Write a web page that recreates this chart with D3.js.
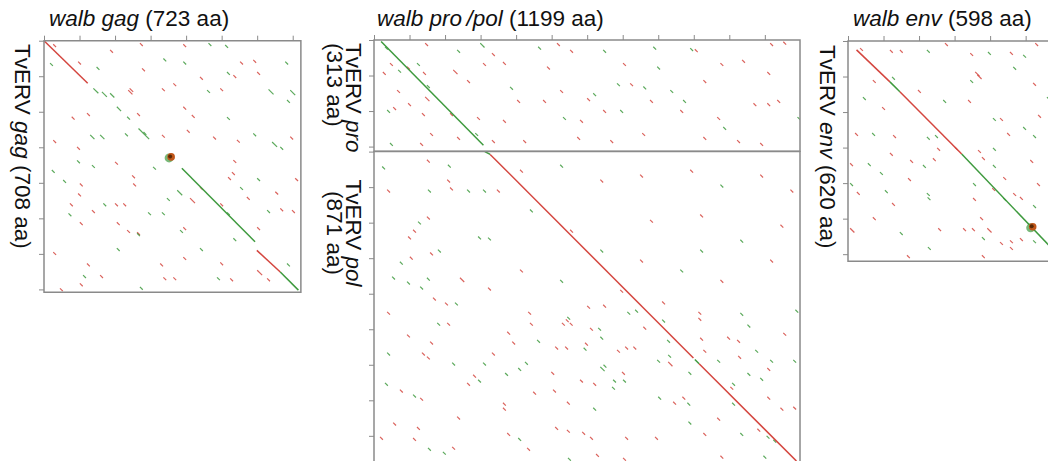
<!DOCTYPE html>
<html>
<head>
<meta charset="utf-8">
<script src="https://cdn.jsdelivr.net/npm/d3@7"></script>
<style>
    body { margin: 0; background: #fff; }
    svg { display: block; }
    text { font-family: "Liberation Sans", Arial, sans-serif; font-size: 22.5px; fill: #111; }
</style>
</head>
<body>
<div class="dotplot-container"></div>
<script>
// Sequence lengths (aa): [walb, TvERV]
const gagLen = [723, 708];
const proLen = [1199, 313];
const polLen = [1199, 871];
const envLen = [598, 620];

// Main diagonal runs: [walbStart, tvervStart, walbEnd, tvervEnd, colour]
const gagDiag = [[0, 0, 123, 120, "r"], [388, 359, 594, 566, "g"], [599, 590, 665, 651, "r"], [665, 651, 716, 702, "g"]];
const proDiag = [[20, 4, 308, 296, "g"]];
const polDiag = [[312, 0, 327, 8, "g"], [327, 8, 899, 581, "r"], [903, 585, 915, 597, "g"], [915, 597, 1189, 871, "r"]];
const envDiag = [[24, 25, 118, 115, "r"], [118, 115, 146, 143, "g"], [146, 143, 320, 318, "r"], [320, 318, 570, 580, "g"]];

// Dense spots: [walb, tverv]
const gagBlob = [[355, 327]];
const envBlob = [[517, 523]];

// Short match hits: [walb, tverv, colour, length]
const gagHits = [
    [26, 10, "r"], [96, 59, "r"], [17, 63, "g"], [186, 26, "r"], [148, 74, "g"], [270, 7, "r"], [276, 78, "r"],
    [336, 50, "g"], [392, 10, "r"], [392, 59, "g"], [439, 102, "r"], [463, 7, "g"], [510, 12, "g"], [552, 59, "r"],
    [589, 54, "r"], [679, 59, "g"], [515, 88, "g"], [533, 97, "r"], [600, 88, "r"], [632, 137, "g", 14], [693, 139, "g", 14],
    [684, 167, "g"], [139, 134, "g", 14], [163, 144, "g", 14], [186, 148, "g", 12], [237, 139, "r", 12], [241, 134, "r", 10],
    [332, 134, "r"], [364, 120, "r"], [459, 139, "g"], [496, 134, "r"], [205, 186, "g", 12], [234, 214, "g"], [262, 204, "r"],
    [392, 186, "r"], [416, 209, "r"], [515, 215, "g"], [78, 214, "r"], [121, 204, "r"], [130, 265, "g", 12], [158, 265, "g", 12],
    [228, 261, "g"], [266, 247, "g", 30], [280, 257, "g"], [332, 265, "r"], [402, 251, "r"], [476, 270, "r"], [543, 279, "r"],
    [589, 261, "g"], [642, 285, "g", 14], [665, 299, "g"], [693, 270, "r"], [26, 280, "r"], [93, 299, "r"],
    [22, 364, "g"], [54, 392, "g"], [101, 402, "r"], [96, 430, "r"], [73, 458, "r"], [69, 486, "g"], [101, 511, "r"],
    [135, 477, "r"], [167, 458, "g"], [200, 458, "r"], [223, 458, "r"], [205, 511, "r"], [251, 402, "r"], [248, 379, "r"],
    [262, 539, "r"], [293, 483, "g"], [332, 483, "g"], [346, 443, "g"], [375, 421, "g", 14], [383, 533, "g"], [392, 525, "r"],
    [411, 443, "r", 14], [439, 412, "r"], [307, 355, "g"], [200, 341, "r"], [135, 350, "g"], [93, 337, "g"], [533, 336, "r"],
    [529, 370, "r"], [518, 384, "r"], [552, 412, "g"], [600, 387, "g"], [571, 440, "r"], [628, 477, "g"], [665, 472, "r"],
    [698, 477, "r"], [651, 425, "r"], [707, 387, "r"], [515, 483, "g"], [496, 458, "r"], [600, 525, "r"], [533, 556, "g"],
    [496, 624, "r"], [524, 669, "r"], [487, 666, "g"], [439, 584, "g"], [392, 609, "r"], [364, 666, "r"], [336, 666, "r"],
    [327, 627, "r"], [270, 693, "g"], [205, 584, "g"], [158, 660, "r"], [121, 627, "r"], [110, 660, "g"], [26, 595, "r"],
    [101, 683, "r"], [45, 697, "r"], [684, 627, "g"], [600, 646, "r", 14], [628, 669, "r"], [234, 533, "r"], [262, 542, "g"]
];

const proHits = [
    [31, 19, "g"], [45, 65, "r"], [25, 90, "r"], [68, 84, "g"], [93, 75, "r"], [121, 65, "g"], [144, 9, "r"],
    [138, 90, "r"], [149, 127, "g"], [144, 160, "r", 12], [96, 178, "r"], [54, 189, "r"], [37, 197, "g"], [65, 141, "r"],
    [135, 206, "r"], [214, 206, "r"], [223, 84, "r", 12], [234, 28, "g"], [262, 113, "r"], [299, 9, "g", 12], [332, 37, "r"],
    [307, 65, "r"], [290, 217, "r"], [285, 262, "g"], [234, 273, "r"], [158, 262, "r"], [130, 290, "r"], [45, 290, "g"],
    [363, 62, "r"], [383, 132, "g"], [403, 169, "r"], [363, 225, "r"], [332, 282, "r"], [420, 282, "r"], [462, 19, "g"],
    [487, 75, "r"], [476, 169, "r"], [515, 9, "r"], [524, 141, "r"], [532, 217, "g"], [572, 273, "r"], [580, 225, "r"],
    [600, 164, "r"], [617, 150, "g"], [645, 197, "r"], [693, 197, "g"], [701, 65, "r"], [684, 122, "g"], [721, 122, "r"],
    [758, 131, "g"], [786, 19, "g"], [777, 169, "r"], [797, 75, "g"], [755, 262, "r"], [665, 282, "r"], [552, 28, "r"],
    [645, 28, "g"], [890, 23, "g"], [903, 26, "r"], [975, 65, "r"], [1036, 56, "r"], [1115, 9, "r"], [1152, 5, "r"],
    [1107, 90, "r"], [834, 141, "g"], [870, 169, "g"], [927, 113, "r"], [862, 197, "r"], [966, 217, "r"], [983, 245, "g"],
    [1068, 178, "r"], [1107, 178, "r"], [1135, 169, "r"], [1192, 217, "g"], [1087, 290, "r"], [1022, 282, "r"], [927, 273, "r"]
];

const polHits = [
    [23, 42, "g"], [37, 107, "r"], [149, 23, "r"], [152, 107, "g"], [208, 37, "g"], [206, 79, "r"], [214, 101, "r"],
    [262, 107, "g"], [307, 107, "g"], [346, 107, "r"], [96, 239, "r"], [110, 220, "r"], [149, 183, "r"], [124, 197, "g"],
    [293, 239, "g"], [321, 242, "g"], [73, 310, "g"], [101, 296, "r"], [158, 284, "r"], [180, 276, "g"], [51, 352, "g"],
    [93, 366, "g"], [130, 380, "g"], [149, 355, "g"], [242, 355, "r", 12], [321, 383, "r"], [200, 425, "r"], [228, 425, "g"],
    [166, 411, "r"], [37, 451, "r"], [178, 482, "g"], [206, 482, "r"], [93, 515, "r"], [158, 535, "r"], [37, 566, "g"],
    [135, 566, "r"], [149, 577, "r"], [220, 594, "g"], [307, 594, "g"], [332, 566, "r"], [279, 628, "r"], [262, 651, "r"],
    [293, 642, "g"], [31, 651, "g"], [73, 670, "r"], [110, 684, "g"], [130, 693, "r"], [363, 707, "r"], [54, 763, "r"],
    [121, 775, "r"], [234, 746, "r"], [17, 803, "r"], [110, 806, "r"], [152, 834, "g"], [194, 845, "g"], [220, 831, "r"],
    [411, 51, "r"], [524, 37, "g"], [637, 79, "r"], [749, 65, "r"], [890, 51, "r"], [975, 93, "g"], [1087, 65, "r"],
    [1172, 107, "r"], [439, 163, "g"], [552, 220, "r"], [637, 276, "g"], [777, 192, "r"], [918, 177, "r"], [1031, 248, "g"],
    [1144, 206, "r"], [411, 332, "r"], [524, 361, "g"], [693, 389, "r"], [862, 332, "g"], [975, 361, "r"], [1115, 304, "r"],
    [918, 276, "g"], [749, 304, "r"],
    [434, 451, "r"], [544, 465, "g"], [540, 472, "r"], [600, 434, "r"], [645, 431, "r"], [713, 451, "g"], [735, 445, "g"],
    [811, 422, "r"], [913, 451, "r"], [1031, 454, "g"], [1051, 487, "g"], [1186, 445, "g"], [439, 482, "r"], [529, 482, "r"],
    [551, 482, "r"], [608, 496, "r"], [631, 496, "g"], [375, 507, "r"], [389, 535, "r"], [459, 530, "g"], [510, 549, "r"],
    [538, 549, "r"], [594, 538, "r"], [590, 552, "g"], [637, 521, "g"], [684, 558, "r"], [707, 549, "r"], [730, 549, "r"],
    [758, 493, "r"], [811, 473, "g"], [825, 530, "g"], [828, 572, "g"], [828, 592, "r", 12], [913, 468, "r"], [918, 524, "r"],
    [927, 558, "r"], [994, 521, "r"], [1022, 530, "r"], [1025, 575, "r"], [1073, 558, "g"], [1115, 586, "g"], [1152, 510, "r"],
    [1180, 586, "g"], [1107, 609, "r"], [1087, 637, "g"], [1051, 623, "g"], [1008, 651, "g"], [966, 586, "g"], [885, 620, "g"],
    [797, 586, "g"], [406, 609, "g"], [425, 592, "g"], [369, 623, "g"], [499, 620, "r"], [637, 606, "g", 12], [646, 600, "g"],
    [698, 620, "r"], [580, 642, "r"], [617, 651, "r"], [673, 642, "g"], [701, 642, "g"], [670, 662, "g"], [504, 670, "r"],
    [448, 676, "r"], [363, 721, "r"], [543, 704, "r"], [617, 721, "g"], [800, 690, "g"], [842, 704, "r"], [868, 690, "r"],
    [882, 707, "g"], [1003, 662, "r"], [1008, 707, "g"], [1107, 690, "r"], [1144, 721, "r"], [1180, 718, "r"], [885, 760, "g"],
    [927, 792, "r"], [966, 749, "r"], [1031, 792, "g"], [1079, 780, "r"], [1124, 811, "g"], [1105, 800, "g"], [510, 775, "r"],
    [543, 783, "r"], [586, 789, "r"], [608, 803, "r"], [406, 806, "g"], [375, 792, "r"], [431, 834, "r"], [707, 803, "r"],
    [791, 803, "r"], [546, 862, "g"], [625, 851, "r"], [701, 862, "r"], [975, 856, "r"], [1096, 856, "g"]
];

const envHits = [
    [34, 20, "r"], [118, 25, "r"], [146, 25, "r"], [222, 25, "g"], [273, 6, "r"], [344, 34, "r"], [394, 31, "g"],
    [456, 31, "r"], [493, 39, "g"], [527, 6, "r"], [465, 73, "g"], [358, 87, "r", 12], [364, 95, "r", 12], [344, 110, "g"],
    [70, 110, "r"], [124, 101, "g"], [42, 158, "g"], [96, 186, "r"], [20, 259, "r"], [68, 259, "g"], [127, 265, "r"],
    [222, 270, "g"], [245, 265, "g"], [301, 299, "r"], [366, 307, "r"], [408, 301, "g"], [448, 259, "r"], [493, 242, "g"],
    [408, 217, "g"], [428, 217, "r"], [521, 265, "g"], [535, 208, "r"], [560, 158, "g"], [197, 138, "r"], [268, 166, "g"],
    [338, 166, "r"], [521, 118, "r"],
    [6, 344, "r"], [56, 344, "g"], [90, 369, "g"], [118, 315, "r"], [175, 335, "r"], [211, 349, "g"], [239, 330, "r"],
    [251, 301, "r"], [6, 400, "g"], [25, 425, "r"], [104, 420, "g"], [169, 386, "r"], [222, 428, "g"], [224, 440, "g"],
    [124, 456, "r"], [70, 496, "r"], [6, 527, "r", 12], [146, 538, "g"], [225, 580, "g"], [254, 527, "r"], [324, 527, "r"],
    [349, 527, "r"], [392, 527, "r", 12], [372, 496, "r"], [352, 442, "r"], [352, 400, "g"], [377, 327, "r"], [408, 349, "g"],
    [437, 383, "r"], [437, 442, "g"], [406, 414, "r"], [465, 428, "r"], [484, 439, "r"], [513, 335, "r"], [532, 400, "r"],
    [521, 462, "g"], [377, 552, "g"], [428, 566, "r"], [456, 561, "r"], [484, 555, "r"], [456, 580, "r"], [377, 603, "r"],
    [521, 561, "g"], [166, 603, "r"]
];

const colors = { r: "#d4463f", g: "#3e9a3e" };
const pxPerAa = 0.3553;

const makeDotPanel = (svg, id, opt) => {
    const [lx, ly] = opt.len;
    const x = d3.scaleLinear().domain([0, lx]).range([opt.x0, opt.x0 + lx * pxPerAa]);
    const y = d3.scaleLinear().domain([0, ly]).range([opt.y0, opt.y0 + ly * pxPerAa]);

    svg.append("clipPath")
        .attr("id", id)
        .append("rect")
        .attr("x", x(0)).attr("y", y(0))
        .attr("width", x(lx) - x(0)).attr("height", y(ly) - y(0));

    const g = svg.append("g").attr("clip-path", `url(#${id})`);

    // scattered hits
    g.selectAll("line.hit")
        .data(opt.hits)
        .enter()
        .append("line")
        .attr("class", "hit")
        .attr("x1", d => x(d[0]))
        .attr("y1", d => y(d[1]))
        .attr("x2", d => x(d[0] + (d[3] || 8)))
        .attr("y2", d => y(d[1] + (d[3] || 8)))
        .attr("stroke", d => colors[d[2]])
        .attr("stroke-width", 1.2)
        .attr("stroke-opacity", 0.85);

    // main diagonal
    g.selectAll("line.diag")
        .data(opt.diag)
        .enter()
        .append("line")
        .attr("class", "diag")
        .attr("x1", d => x(d[0]))
        .attr("y1", d => y(d[1]))
        .attr("x2", d => x(d[2]))
        .attr("y2", d => y(d[3]))
        .attr("stroke", d => colors[d[4]])
        .attr("stroke-width", 1.5);

    // dense blob
    (opt.blob || []).forEach(b => {
        const cx = x(b[0]), cy = y(b[1]);
        g.append("circle").attr("cx", cx - 1).attr("cy", cy + 1).attr("r", 4.5).attr("fill", "#3e9a3e").attr("opacity", 0.7);
        g.append("circle").attr("cx", cx + 1).attr("cy", cy).attr("r", 3.8).attr("fill", "#c0561a");
        g.append("circle").attr("cx", cx).attr("cy", cy - 0.5).attr("r", 2).attr("fill", "#5a2a05");
    });

    // border box (left, top, right; bottom only if inside the page)
    const x0 = x(0), x1 = x(lx), y0 = y(0), y1 = y(ly);
    svg.append("path")
        .attr("d", opt.openBottom
            ? `M${x0},${y1}V${y0}H${x1}V${y1}`
            : `M${x0},${y0}H${x1}V${y1}H${x0}Z`)
        .attr("fill", "none")
        .attr("stroke", "#8a8a8a")
        .attr("stroke-width", 1.5);

    if (opt.top) {
        const ax = svg.append("g")
            .attr("transform", `translate(0,${y0})`)
            .call(d3.axisTop(x).tickValues(d3.range(0, lx, 100)).tickSize(5).tickSizeOuter(0).tickFormat(""));
        ax.select(".domain").remove();
        ax.selectAll("line").attr("stroke", "#8a8a8a");
    }
    const ay = svg.append("g")
        .attr("transform", `translate(${x0},0)`)
        .call(d3.axisLeft(y).tickValues(d3.range(0, ly, 100)).tickSize(5).tickSizeOuter(0).tickFormat(""));
    ay.select(".domain").remove();
    ay.selectAll("line").attr("stroke", "#8a8a8a");
};

const addText = (svg, tx, ty, rotate, anchor, parts) => {
    const t = svg.append("text")
        .attr("transform", `translate(${tx},${ty})` + (rotate ? " rotate(90)" : ""))
        .attr("text-anchor", anchor);
    parts.forEach(p => {
        t.append("tspan").text(p[0]).style("font-style", p[1] ? "italic" : "normal");
    });
};

window.addEventListener("DOMContentLoaded", () => {
    const svg = d3.select(".dotplot-container").append("svg")
        .attr("width", 1048)
        .attr("height", 462);

    makeDotPanel(svg, "clip-gag", { len: gagLen, x0: 44, y0: 40.7, diag: gagDiag, hits: gagHits, blob: gagBlob, top: true });
    makeDotPanel(svg, "clip-pol", { len: polLen, x0: 374, y0: 151.6, diag: polDiag, hits: polHits, top: false, openBottom: true });
    makeDotPanel(svg, "clip-pro", { len: proLen, x0: 374, y0: 40, diag: proDiag, hits: proHits, top: true });
    makeDotPanel(svg, "clip-env", { len: envLen, x0: 848, y0: 41, diag: envDiag, hits: envHits, blob: envBlob, top: true });

    // titles
    addText(svg, 49, 26, false, "start", [["walb gag", true], [" (723 aa)", false]]);
    addText(svg, 377, 26, false, "start", [["walb pro\u2009/pol", true], [" (1199 aa)", false]]);
    addText(svg, 853, 26, false, "start", [["walb env", true], [" (598 aa)", false]]);

    // y labels
    addText(svg, 15, 44, true, "start", [["TvERV ", false], ["gag", true], [" (708 aa)", false]]);
    addText(svg, 346, 43, true, "start", [["TvERV ", false], ["pro", true]]);
    addText(svg, 327, 43, true, "start", [["(313 aa)", false]]);
    addText(svg, 346, 233, true, "middle", [["TvERV ", false], ["pol", true]]);
    addText(svg, 327, 233, true, "middle", [["(871 aa)", false]]);
    addText(svg, 820, 45, true, "start", [["TvERV ", false], ["env", true], [" (620 aa)", false]]);
});
</script>
</body>
</html>
